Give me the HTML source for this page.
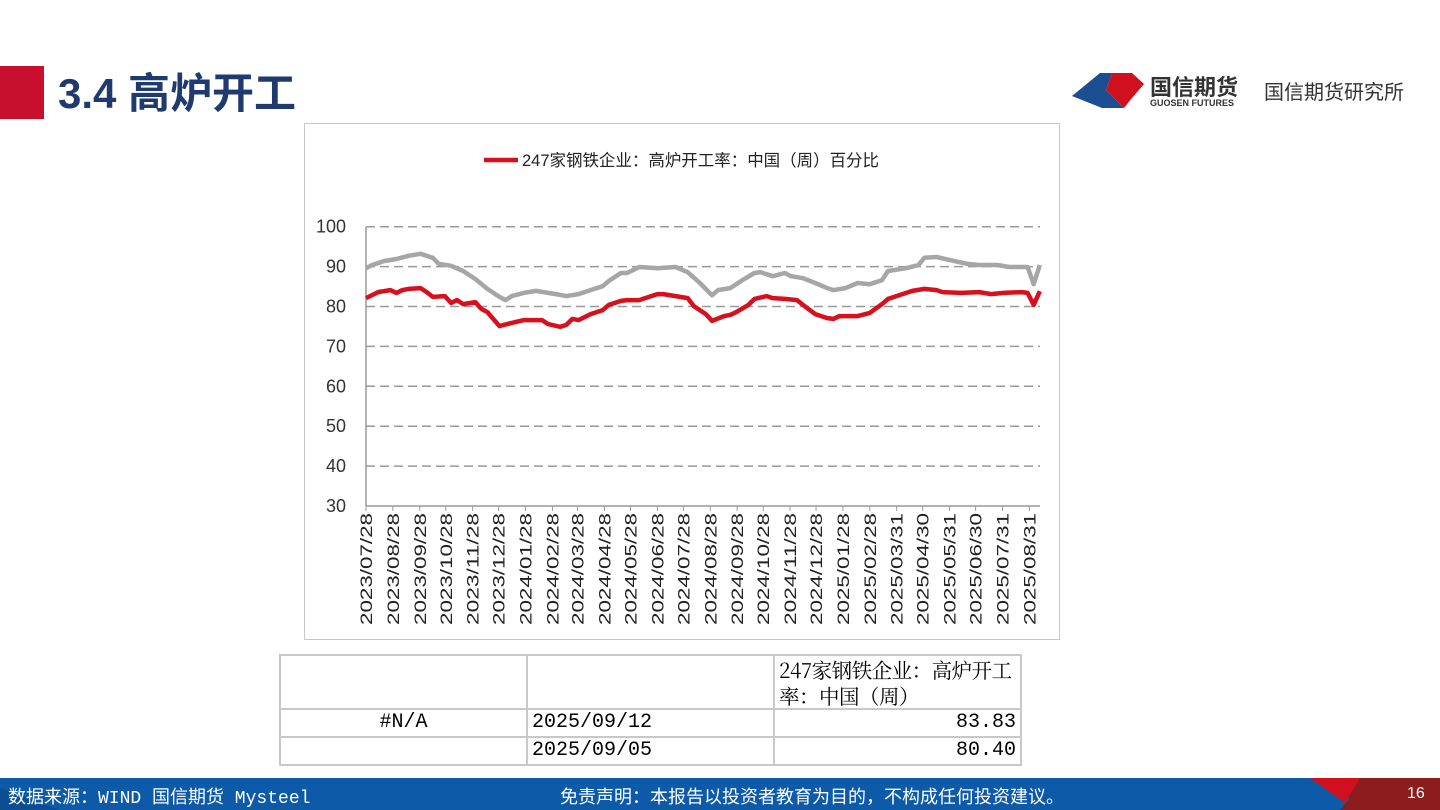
<!DOCTYPE html>
<html><head><meta charset="utf-8">
<style>
body{margin:0;width:1440px;height:810px;background:#fff;overflow:hidden;position:relative;font-family:"Liberation Sans","Noto Sans CJK SC",sans-serif}
.abs{position:absolute}
table{border-collapse:collapse;font-family:"Liberation Mono","Noto Serif CJK SC",serif;font-size:20px;color:#000}
td{border:2px solid #c8c8c8;padding:0 4px;vertical-align:top;line-height:26px}
</style></head><body>
<div class="abs" style="left:0;top:66px;width:44px;height:53px;background:#c8102e"></div>
<div class="abs" style="left:58px;top:68px;font-size:42px;font-weight:bold;color:#1f3a6e;line-height:52px">3.4 高炉开工</div>
<div class="abs" style="left:1072px;top:68px;width:370px;height:45px">
<svg width="75" height="45" style="position:absolute;left:0;top:0"><polygon points="0,28 28,5 40,5 34,22 52,40 30,40" fill="#1b4f91"/><polygon points="40,5 60,5 72,16 60,30 52,40 34,22" fill="#d0101e"/></svg>
<div class="abs" style="left:78px;top:2px;font-size:22px;font-weight:bold;color:#333">国信期货</div>
<div class="abs" style="left:78px;top:30px;font-size:9px;font-weight:bold;color:#333">GUOSEN FUTURES</div>
<div class="abs" style="left:192px;top:8px;font-size:20px;color:#333">国信期货研究所</div>
</div>
<div class="abs" style="left:304px;top:123px;width:754px;height:515px;border:1px solid #c8c8c8"></div>
<svg class="abs" style="left:0;top:0" width="1440" height="810" id="chart"></svg>
<table class="abs" style="left:279px;top:654px">
<tr style="height:53px"><td style="width:237px"></td><td style="width:237px"></td><td style="width:237px;font-family:'Noto Serif CJK SC',serif;font-size:20.5px;letter-spacing:-0.5px">247家钢铁企业：高炉开工率：中国（周）</td></tr>
<tr style="height:28px"><td style="text-align:center">#N/A</td><td>2025/09/12</td><td style="text-align:right">83.83</td></tr>
<tr style="height:28px"><td></td><td>2025/09/05</td><td style="text-align:right">80.40</td></tr>
</table>
<div class="abs" style="left:0;top:778px;width:1440px;height:32px;background:#0d5aa8"></div>
<svg class="abs" style="left:0;top:778px" width="1440" height="32"><polygon points="1310,0 1440,0 1440,32 1340,32 1350,20" fill="#8c1c1e"/><polygon points="1310,0 1360,0 1345,25" fill="#d0101e"/><polygon points="0,10 60,32 0,32" fill="#0b4d93"/></svg>
<div class="abs" style="left:8px;top:783px;font-size:18px;color:#fff;font-family:'Liberation Mono','Noto Sans CJK SC',monospace">数据来源：WIND 国信期货 Mysteel</div>
<div class="abs" style="left:560px;top:783px;font-size:18px;color:#fff">免责声明：本报告以投资者教育为目的，不构成任何投资建议。</div>
<div class="abs" style="left:1407px;top:785px;font-size:16px;color:#fff">16</div>
<script>
const redWeeks=[0,2,4,5,6,7,9,10,11,13,14,15,16,18,19,20,22,24,26,29,30,32,33,34,35,37,39,40,42,43,45,46,48,49,51,53,54,56,57,59,60,61,63,64,66,67,69,71,72,74,76,77,78,81,83,85,86,88,90,92,94,95,98,101,103,105,108,109,110,111];
const redValues=[82.1,83.6,84.1,83.4,84.1,84.4,84.6,83.6,82.4,82.6,80.9,81.6,80.6,81.1,79.4,78.6,75.1,75.9,76.6,76.6,75.6,74.9,75.4,76.9,76.6,78.1,79.1,80.4,81.4,81.6,81.6,82.1,83.1,83.1,82.6,82.1,80.1,78.1,76.4,77.6,77.9,78.6,80.4,81.9,82.6,82.1,81.9,81.6,80.4,78.1,77.1,76.9,77.6,77.6,78.4,80.6,81.9,82.9,83.9,84.4,84.1,83.6,83.4,83.6,83.1,83.4,83.6,83.4,80.4,83.83];
const grayWeeks=[0,1,3,5,7,9,11,12,14,16,17,18,20,22,23,24,26,28,30,32,33,35,37,39,40,42,43,45,48,51,53,55,57,58,60,62,64,65,67,69,70,72,74,76,77,79,81,83,85,86,89,91,92,94,96,99,101,104,106,109,110,111];
const grayValues=[89.6,90.4,91.4,91.9,92.7,93.2,92.2,90.7,90.2,88.9,87.9,86.9,84.4,82.4,81.6,82.6,83.4,83.9,83.4,82.9,82.6,83.1,84.1,85.1,86.4,88.4,88.4,89.9,89.6,89.9,88.6,85.9,82.8,84.1,84.6,86.6,88.4,88.6,87.6,88.4,87.6,87.1,85.9,84.6,84.1,84.6,85.9,85.6,86.6,88.9,89.6,90.4,92.2,92.4,91.7,90.7,90.4,90.4,89.9,89.9,85.6,90.4];
const yTicks=[30,40,50,60,70,80,90,100];
const xTickLabels=["2023/07/28","2023/08/28","2023/09/28","2023/10/28","2023/11/28","2023/12/28","2024/01/28","2024/02/28","2024/03/28","2024/04/28","2024/05/28","2024/06/28","2024/07/28","2024/08/28","2024/09/28","2024/10/28","2024/11/28","2024/12/28","2025/01/28","2025/02/28","2025/03/31","2025/04/30","2025/05/31","2025/06/30","2025/07/31","2025/08/31"];
const NS="http://www.w3.org/2000/svg";
const svg=document.getElementById('chart');
const X0=366,PX=6.07;
const x=w=>X0+w*PX;
const y=v=>506-(v-30)*3.99;
const start=Date.UTC(2023,6,28);
function mk(t,a){const e=document.createElementNS(NS,t);for(const k in a)e.setAttribute(k,a[k]);svg.appendChild(e);return e;}
yTicks.forEach(v=>{
 if(v>30){const g=mk('line',{x1:X0,x2:1040,y1:y(v),y2:y(v),stroke:'#999','stroke-width':1.5,'stroke-dasharray':'9,5'});
 
 }
 const t=mk('text',{x:346,y:y(v)+6,'text-anchor':'end','font-size':18,fill:'#333'});t.textContent=v;
 
 
});
const ax=mk('line',{x1:X0,x2:X0,y1:227,y2:506,stroke:'#999','stroke-width':1.5});


const bx=mk('line',{x1:X0,x2:1040,y1:506,y2:506,stroke:'#999','stroke-width':1.5});


xTickLabels.forEach(s=>{
 const p=s.split('/');const d=(Date.UTC(+p[0],+p[1]-1,+p[2])-start)/864e5/7;
 const xx=x(d);
 const tk=mk('line',{x1:xx,x2:xx,y1:506,y2:511,stroke:'#999','stroke-width':1});
 
 
 const t=mk('text',{x:0,y:0,'text-anchor':'end','font-size':16.5,fill:'#222',textLength:112,lengthAdjust:'spacingAndGlyphs',transform:`translate(${xx+6},513) rotate(-90)`});t.textContent=s;
 
 
});
function line(ws,vs,c,n){const d=ws.map((w,i)=>(i?'L':'M')+x(w).toFixed(1)+','+y(vs[i]).toFixed(1)).join('');
 const p=mk('path',{d:d,fill:'none',stroke:c,'stroke-width':4.5,'stroke-linejoin':'round'});
 
 }
line(grayWeeks,grayValues,'#a6a6a6','gray-series-line');
line(redWeeks,redValues,'#d7101e','blast-furnace-rate-line');
const lg=mk('line',{x1:484,x2:518,y1:160,y2:160,stroke:'#d7101e','stroke-width':4.5});


const lt=mk('text',{x:522,y:166,'font-size':16.5,fill:'#222',textLength:357,lengthAdjust:'spacingAndGlyphs'});lt.textContent='247家钢铁企业：高炉开工率：中国（周）百分比';


</script>
</body></html>
